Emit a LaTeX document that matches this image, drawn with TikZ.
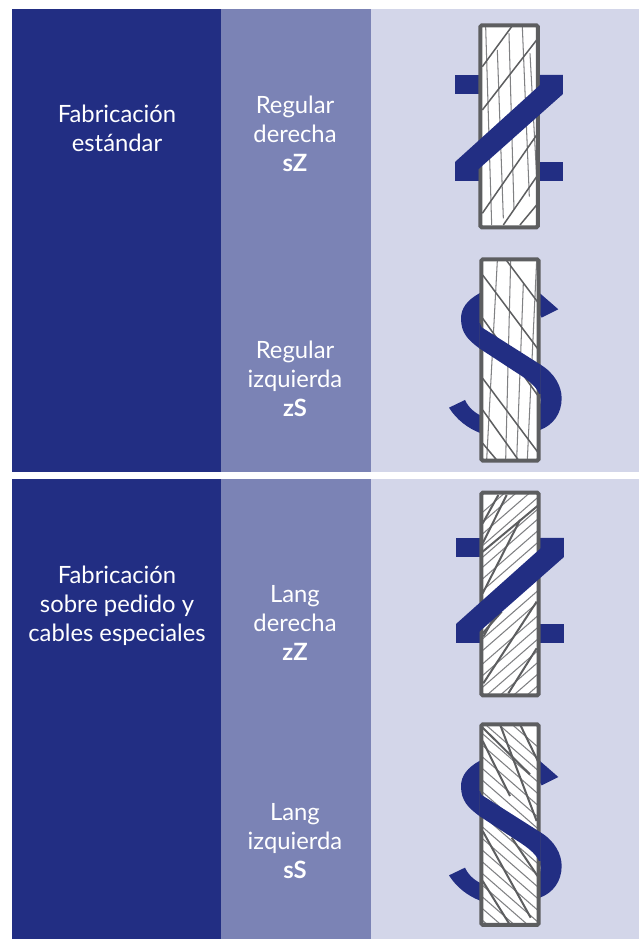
\documentclass[tikz,border=0pt]{standalone}
\usepackage{fontspec}
\setmainfont{Lato}
\definecolor{navy}{HTML}{222E83}
\definecolor{midb}{HTML}{7B83B5}
\definecolor{lightb}{HTML}{D3D6E9}
\definecolor{frameg}{HTML}{5D5E60}
\definecolor{thing}{HTML}{808183}
\newcommand{\Spath}{(355,178) -- (300,130) .. controls (255,100) and (165,100) .. (118,130) .. controls (82,150) and (63,175) .. (63,205) .. controls (63,250) and (85,270) .. (118,295) -- (225,365) .. controls (265,390) and (300,415) .. (302,450) .. controls (303,490) and (260,520) .. (210,515) .. controls (170,515) and (100,505) .. (75,450) -- (27,473) .. controls (50,510) and (85,535) .. (118,548) .. controls (170,580) and (250,575) .. (300,540) .. controls (340,525) and (365,490) .. (365,445) .. controls (365,410) and (345,370) .. (300,343) -- (125,232) .. controls (100,190) and (170,165) .. (210,165) .. controls (250,165) and (290,170) .. (305,203) -- cycle}
\tikzset{
 panelA/.style={fill=navy,draw=none},
 panelB/.style={fill=midb,draw=none},
 panelC/.style={fill=lightb,draw=none},
 lab/.style={text=white,align=center,inner sep=0pt,font=\fontsize{23.8}{29}\selectfont},
 frm/.style={draw=frameg,line width=4pt,rounded corners=1.5pt},
 thn/.style={draw=thing,line width=1.05pt},
 mdl/.style={draw=frameg,line width=1.5pt},
 thk/.style={draw=frameg,line width=2pt}
}
\begin{document}
\begin{tikzpicture}[x=1pt,y=-1pt]
\useasboundingbox (0,0) rectangle (639,939);
\fill[white] (0,0) rectangle (639,939);
\fill[panelA] (12,9) rectangle (221,472);
\fill[panelB] (221,9) rectangle (371,472);
\fill[panelC] (371,9) rectangle (639,472);
\fill[panelA] (12,479) rectangle (221,939);
\fill[panelB] (221,479) rectangle (371,939);
\fill[panelC] (371,479) rectangle (639,939);
\node[lab] (t1) at (117,128.5) {Fabricación\\estándar};
\node[lab] (t2) at (117,605.5) {Fabricación\\sobre pedido y\\cables especiales};
\node[lab] (a1) at (295,133.5) {Regular\\derecha\\\textbf{sZ}};
\node[lab] (a2) at (295,378.5) {Regular\\izquierda\\\textbf{zS}};
\node[lab] (a3) at (295,623) {Lang\\derecha\\\textbf{zZ}};
\node[lab] (a4) at (295,841.5) {Lang\\izquierda\\\textbf{sS}};
% ---- rope 1
\begin{scope}[shift={(440,10)},x=0.3333pt,y=-0.3333pt]
\fill[navy] (45,195) rectangle (369,252);
\fill[navy] (45,456) rectangle (369,513);
\fill[white] (121,46) rectangle (294,652);
\begin{scope}
\clip (121,46) rectangle (294,652);
\foreach \a/\b/\c/\d in {137/50/155/645,172/120/190/625,207/70/222/600,247/50/268/560,270/130/290/500}
  \draw[thn] (\a,\b) -- (\c,\d);
\foreach \a/\b/\c/\d in {127/170/215/50,127/300/290/90,127/610/290/375,190/645/290/500,240/645/290/585}
  \draw[mdl] (\a,\b) -- (\c,\d);
\end{scope}
\draw[frm] (121,46) rectangle (294,652);
\fill[navy] (300,225) -- (300,195) -- (369,195) -- (369,252) -- (115,478) -- (115,513) -- (45,513) -- (45,456) -- cycle;
\end{scope}
% ---- rope 2
\begin{scope}[shift={(440,250)},x=0.3333pt,y=-0.3333pt]
\fill[navy] \Spath;
\fill[white] (124,28) rectangle (296,632);
\begin{scope}
\clip (124,28) rectangle (296,632);
\foreach \a/\b/\c/\d in {172/32/140/630,212/32/197/630,250/100/230/630,290/32/262/630}
  \draw[thn] (\a,\b) -- (\c,\d);
\foreach \a/\b/\c/\d in {128/75/296/300,200/32/296/160,128/205/296/440,128/385/296/610,128/480/235/630,128/580/170/630}
  \draw[mdl] (\a,\b) -- (\c,\d);
\end{scope}
\draw[frm] (124,28) rectangle (296,632);
\begin{scope}
\clip (118,222) rectangle (302,430);
\fill[navy] \Spath;
\end{scope}
\end{scope}
% ---- rope 3
\begin{scope}[shift={(440,480)},x=0.3333pt,y=-0.3333pt]
\fill[navy] (48,174) rectangle (372,231);
\fill[navy] (48,432) rectangle (372,489);
\fill[white] (124,38) rectangle (296,646);
\begin{scope}
\clip (124,38) rectangle (296,646);
\foreach \y in {100,130,165,200,235,265,300,335,480,515,555,590,625,660,695,730,765,800}
  \draw[thn] (124,\y) -- +(172,-150);
\foreach \a/\b/\c/\d in {128/130/175/45,128/190/200/45,128/340/240/120,128/460/185/395,130/610/290/365,205/640/290/505,130/470/200/345}
  \draw[thk] (\a,\b) -- (\c,\d);
\draw[thk] (128,215) -- (296,75);
\end{scope}
\draw[frm] (124,38) rectangle (296,646);
\fill[navy] (302,205) -- (302,174) -- (372,174) -- (372,231) -- (118,455) -- (118,489) -- (48,489) -- (48,432) -- cycle;
\end{scope}
% ---- rope 4
\begin{scope}[shift={(440,717.67)},x=0.3333pt,y=-0.3333pt]
\fill[navy] \Spath;
\fill[white] (124,20) rectangle (296,622);
\begin{scope}
\clip (124,20) rectangle (296,622);
\foreach \y in {-60,-25,10,45,80,115,150,185,220,255,290,325,360,395,430,465,500,535,570,605}
  \draw[thn] (124,\y) -- +(172,150);
\foreach \a/\b/\c/\d in {128/30/270/170,180/20/290/310,128/70/210/235,240/20/296/135,128/340/272/600,128/490/210/622,215/360/296/480}
  \draw[thk] (\a,\b) -- (\c,\d);
\end{scope}
\draw[frm] (124,20) rectangle (296,622);
\begin{scope}
\clip (118,222) rectangle (302,430);
\fill[navy] \Spath;
\end{scope}
\end{scope}
\end{tikzpicture}
\end{document}
